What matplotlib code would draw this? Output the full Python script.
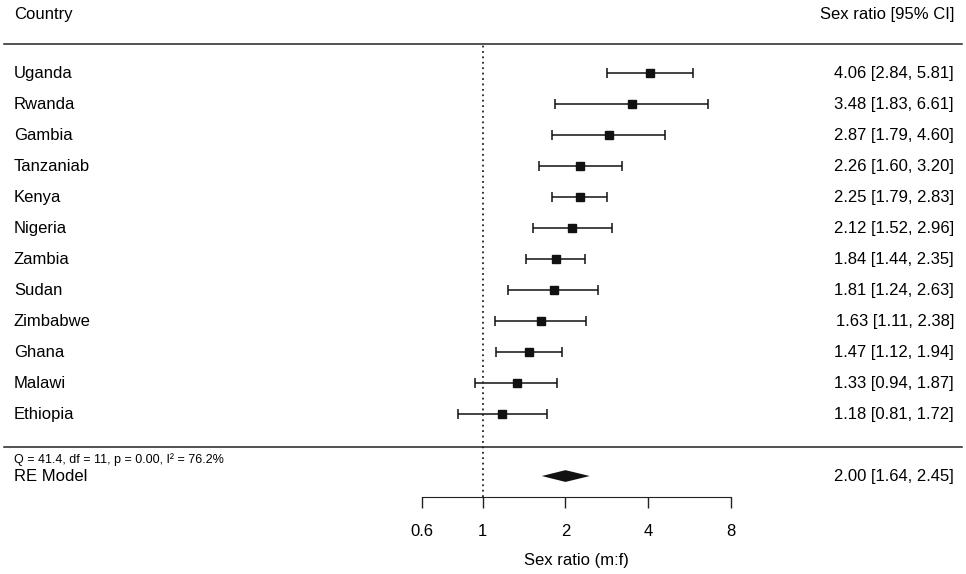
import matplotlib
matplotlib.use('Agg')
import matplotlib.pyplot as plt
import matplotlib.transforms as mtransforms
from matplotlib import ticker
import numpy as np

plt.rcParams['font.family'] = ['Liberation Sans', 'DejaVu Sans']

# Study data (sex ratio m:f with 95% CI)
countries = ['Uganda', 'Rwanda', 'Gambia', 'Tanzaniab', 'Kenya', 'Nigeria',
             'Zambia', 'Sudan', 'Zimbabwe', 'Ghana', 'Malawi', 'Ethiopia']
est = np.array([4.06, 3.48, 2.87, 2.26, 2.25, 2.12, 1.84, 1.81, 1.63, 1.47, 1.33, 1.18])
lo = np.array([2.84, 1.83, 1.79, 1.60, 1.79, 1.52, 1.44, 1.24, 1.11, 1.12, 0.94, 0.81])
hi = np.array([5.81, 6.61, 4.60, 3.20, 2.83, 2.96, 2.35, 2.63, 2.38, 1.94, 1.87, 1.72])

# Random effects summary
re_est, re_lo, re_hi = 2.00, 1.64, 2.45
het_text = 'Q = 41.4, df = 11, p = 0.00, I\u00b2 = 76.2%'

xticks = [0.6, 1, 2, 4, 8]
xtick_labels = ['0.6', '1', '2', '4', '8']

# =============================================================================

fig = plt.figure(figsize=(9.66, 5.74), dpi=100)
ax = fig.add_axes([0, 0, 1, 1])
ax.set_xscale('log', base=2)
ax.set_xlim(2 ** -5.832, 2 ** 5.839)
ax.set_ylim(-4.16, 14.355)

rows = np.arange(len(countries), 0, -1)
col = '#111111'

# individual studies
ax.errorbar(est, rows, xerr=[est - lo, hi - est], fmt='s', color=col,
            ms=6, capsize=3.6, elinewidth=1.1, capthick=1.1)

# summary diamond
h = 0.19
ax.fill([re_lo, re_est, re_hi, re_est], [-1, -1 + h, -1, -1 - h], color=col, lw=0)

# separators and reference line
axis_y = -1.68
ax.axhline(12.94, xmin=4 / 966, xmax=962 / 966, color='#222222', lw=1.1)
ax.axhline(-0.06, xmin=4 / 966, xmax=962 / 966, color='#222222', lw=1.1)
ax.vlines(1, axis_y, 12.94, linestyles=(0, (1, 2)), colors='#222222', lw=1.3)

# axis
for s in ['left', 'right', 'top']:
    ax.spines[s].set_visible(False)
ax.spines['bottom'].set_position(('data', axis_y))
ax.spines['bottom'].set_bounds(0.6, 8)
ax.spines['bottom'].set_color('#222222')
ax.set_xticks(xticks)
ax.set_xticklabels(xtick_labels)
ax.xaxis.set_minor_locator(ticker.NullLocator())
ax.tick_params(axis='x', length=8, width=1, pad=11, labelsize=12, color='#222222')
ax.set_yticks([])
ax.text(np.sqrt(xticks[0] * xticks[-1]), -3.71, 'Sex ratio (m:f)',
        ha='center', va='center', fontsize=12)

# text columns
trans = mtransforms.blended_transform_factory(ax.transAxes, ax.transData)
xl = 14 / 966
xr = 954 / 966
ax.text(xl, 13.9, 'Country', transform=trans, ha='left', va='center', fontsize=12)
ax.text(xr, 13.9, 'Sex ratio [95% CI]', transform=trans, ha='right', va='center', fontsize=12)
for r, name, e, l, u in zip(rows, countries, est, lo, hi):
    ax.text(xl, r, name, transform=trans, ha='left', va='center', fontsize=12)
    ax.text(xr, r, '{0:.2f} [{1:.2f}, {2:.2f}]'.format(e, l, u), transform=trans,
            ha='right', va='center', fontsize=12)

ax.text(xl, -0.48, het_text, transform=trans, ha='left', va='center', fontsize=9)
ax.text(xl, -1.03, 'RE Model', transform=trans, ha='left', va='center', fontsize=12)
ax.text(xr, -1.0, '{0:.2f} [{1:.2f}, {2:.2f}]'.format(re_est, re_lo, re_hi),
        transform=trans, ha='right', va='center', fontsize=12)

fig.savefig('out.png', dpi=100)
